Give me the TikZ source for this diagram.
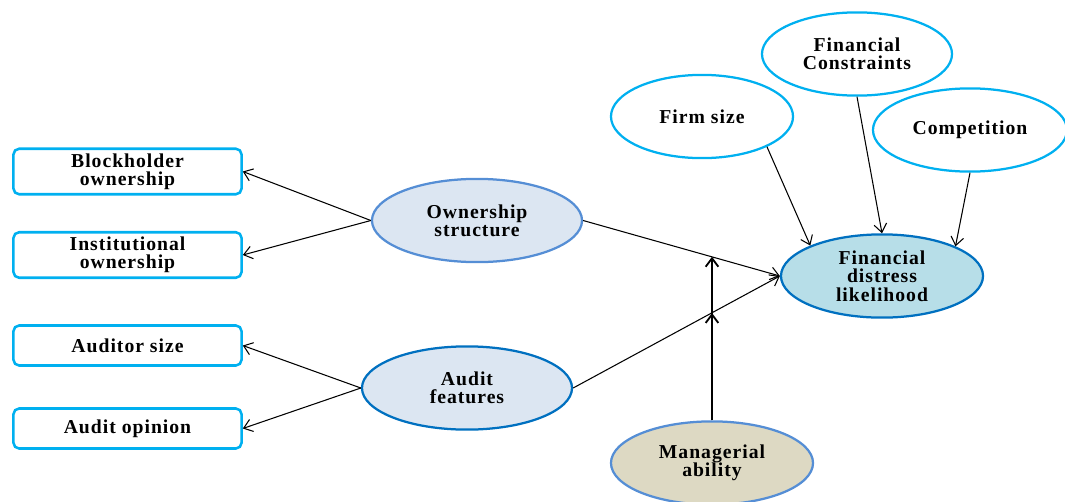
\documentclass[tikz,border=0pt]{standalone}
\usepackage{fontspec}
\setmainfont{Liberation Serif}[LetterSpace=5]
\usetikzlibrary{shapes.geometric, arrows.meta, positioning, calc}

\definecolor{boxcyan}{RGB}{0,176,240}
\definecolor{midblue}{RGB}{85,142,213}
\definecolor{deepblue}{RGB}{0,112,192}
\definecolor{paleblue}{RGB}{220,230,242}
\definecolor{skyfill}{RGB}{183,222,232}
\definecolor{sandfill}{RGB}{221,217,195}

\begin{document}
\begin{tikzpicture}[x=0.025cm, y=-0.025cm,
    every node/.style={font=\fontsize{14}{13}\selectfont\bfseries, align=center},
    varbox/.style={draw=boxcyan, line width=1.8pt, rounded corners=4pt, fill=white,
        minimum width=5.7cm, minimum height=1.0cm},
    blob/.style={ellipse, line width=1.6pt, inner sep=1pt, minimum height=2.08cm},
    ctrl/.style={blob, draw=boxcyan, fill=white},
    link/.style={-{Straight Barb[length=6pt,width=9pt]}, line width=0.75pt}]
    \useasboundingbox (0,0) rectangle (1065,501);

    % Measured variables on the left
    \node[varbox] (bh) at (127.5,171.5) {Blockholder\\ownership};
    \node[varbox] (inst) at (127.5,255) {Institutional\\ownership};
    \node[varbox] (asize) at (127.5,345.5) {Auditor size};
    \node[varbox] (aopin) at (127.5,428.5) {Audit opinion};

    % Latent constructs
    \node[blob, draw=midblue, fill=paleblue, minimum width=5.25cm] (own) at (477,220.5) {Ownership\\structure};
    \node[blob, draw=deepblue, fill=paleblue, minimum width=5.25cm] (aud) at (467,388) {Audit\\features};
    \node[blob, draw=deepblue, fill=skyfill, minimum width=5.05cm] (fd) at (882,276) {Financial\\distress\\likelihood};

    % Controls on top
    \node[ctrl, minimum width=4.55cm] (fsize) at (702,116.5) {Firm size};
    \node[ctrl, minimum width=4.75cm] (fcons) at (857,54) {Financial\\Constraints};
    \node[ctrl, minimum width=4.85cm] (comp) at (970,130) {Competition};

    % Moderator
    \node[blob, draw=midblue, fill=sandfill, minimum width=5.05cm] (mgr) at (712,463) {Managerial\\ability};

    % Arrows to the measured variables
    \draw[link] (own.west) -- (bh.east);
    \draw[link] (own.west) -- (inst.east);
    \draw[link] (aud.west) -- (asize.east);
    \draw[link] (aud.west) -- (aopin.east);

    % Main paths
    \draw[link] (own.east) -- (fd.west);
    \draw[link] (aud.east) -- (fd.west);

    % Control paths
    \draw[link] (fsize.-25) -- (fd.157);
    \draw[link] (fcons.south) -- (fd.north);
    \draw[link] (comp.south) -- (fd.22);

    % Moderating effect
    \coordinate (m1) at ($(own.east)!0.653!(fd.west)$);
    \coordinate (m2) at ($(aud.east)!0.67!(fd.west)$);
    \draw[link, line width=1.3pt] (mgr.north) -- (mgr.north |- m1);
    \draw[link, line width=1.3pt] (mgr.north) -- (mgr.north |- m2);

  \end{tikzpicture}
\end{document}
